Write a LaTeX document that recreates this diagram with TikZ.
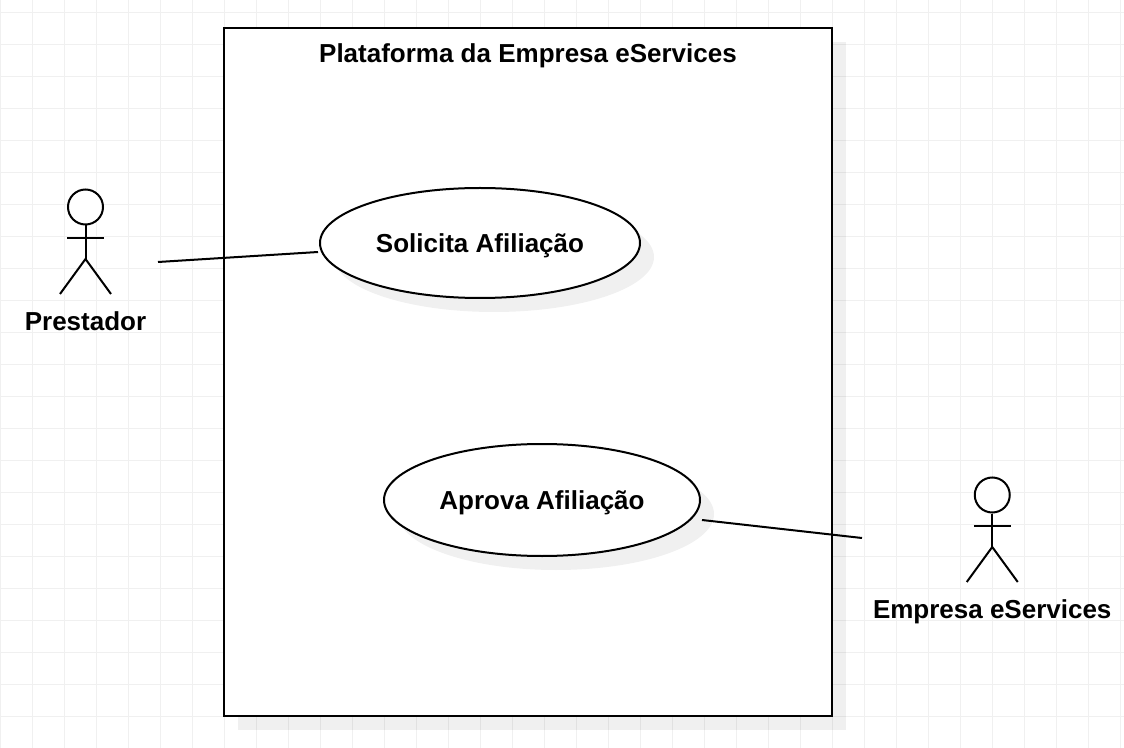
\documentclass[tikz,border=0pt]{standalone}
\usepackage{fontspec}
\setmainfont{Liberation Sans}
\usetikzlibrary{shapes, shadows}

\tikzset{
    softshadow/.style={drop shadow={shadow xshift=10.5pt, shadow yshift=-10.5pt, opacity=.06, fill=black}},
    usecase/.style={ellipse, draw, line width=1.5pt, fill=white, inner sep=0pt, softshadow, text height=14.2pt, text depth=0pt, font=\fontsize{19.5pt}{23pt}\bfseries},
    sysbox/.style={rectangle, draw, line width=1.5pt, fill=white, inner sep=0pt, softshadow},
    head/.style={circle, draw, line width=1.5pt, fill=white, inner sep=0pt, minimum size=26.25pt},
    caption/.style={inner sep=0pt, text height=14.2pt, text depth=0pt, font=\fontsize{19.5pt}{23pt}\bfseries},
    stick/.style={line width=1.5pt}
}

\begin{document}
\begin{tikzpicture}[x=0.75pt, y=-0.75pt]
    \useasboundingbox (0,0) rectangle (1124,748);

    % Grid
    \foreach \gx in {0.5,32.5,...,1121}
        \draw[black!6, line width=0.75pt] (\gx,0) -- (\gx,748);
    \foreach \gy in {12.5,44.5,...,748}
        \draw[black!6, line width=0.75pt] (0,\gy) -- (1124,\gy);

    % Platform
    \node[sysbox, minimum width=456pt, minimum height=516pt] (platform) at (528,372) {};
    % Text
    \node[caption] (title) at (528,53) {Plataforma da Empresa eServices};

    % Use cases
    \node[usecase, minimum width=240pt, minimum height=82.5pt] (solicita) at (480,243) {Solicita Afiliação};
    \node[usecase, minimum width=237pt, minimum height=84pt] (aprova) at (542,500) {Aprova Afiliação};

    % Actors
    \foreach \name/\ax/\ay/\txt in {prestador/85.5/207/Prestador, empresa/992.25/495/Empresa eServices} {
        \node[head] (\name) at (\ax,\ay) {};
        \coordinate (\name hip) at (\ax,\ay+52);
        \draw[stick] (\name.south) -- (\name hip);
        \draw[stick] (\ax-18.5,\ay+31) -- (\ax+18.5,\ay+31);
        \draw[stick] (\ax-25.5,\ay+87) -- (\name hip) -- (\ax+25.5,\ay+87);
        % Text
        \node[caption] (\name text) at (\ax,\ay+114) {\txt};
    }

    % Lines
    \coordinate (P) at (158,262);
    \coordinate (Q) at (318,252);
    \coordinate (R) at (702,520);
    \coordinate (S) at (862,538);
    \draw[stick] (P) -- (Q);
    \draw[stick] (R) -- (S);
\end{tikzpicture}
\end{document}
